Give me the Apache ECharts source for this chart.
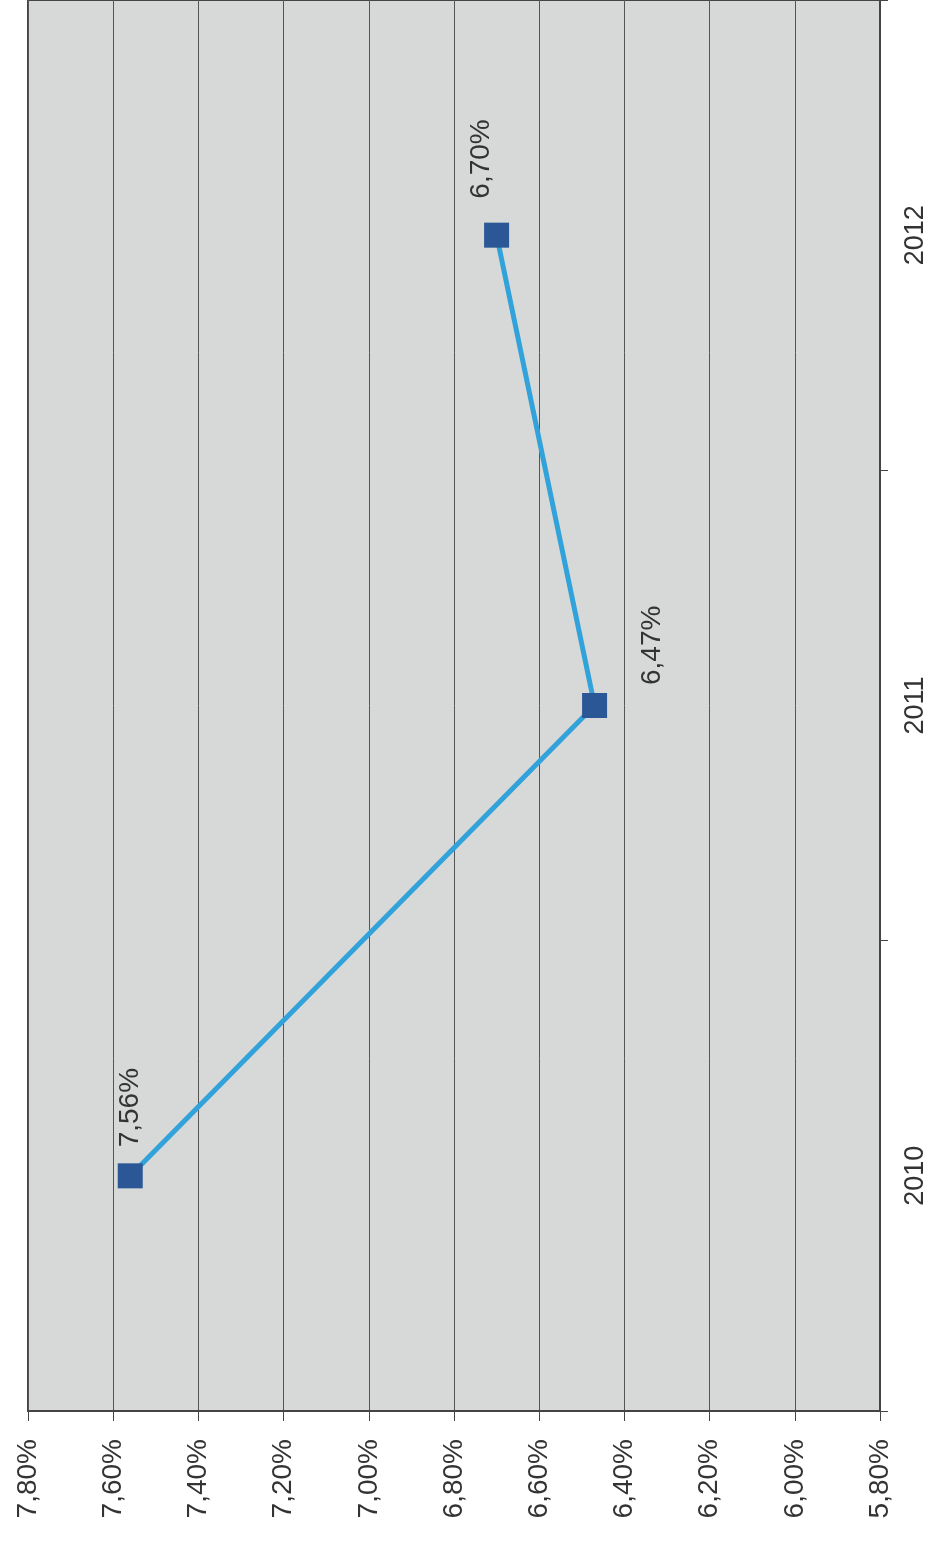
<!DOCTYPE html>
<html><head><meta charset="utf-8">
<script src="https://cdn.jsdelivr.net/npm/echarts@6/dist/echarts.min.js"></script>
<style>html,body{margin:0;padding:0;background:#fff}#c{width:934px;height:1541px}</style>
</head><body><div id="c"></div>
<script>
const categories = ['2010', '2011', '2012'];
const values = [7.56, 6.47, 6.70];
const axisMin = 5.8, axisMax = 7.8, axisStep = 0.2;

const fmt = v => v.toFixed(2).replace('.', ',') + '%';
// label offsets in the rotated text frame: [along text, across text]
const labelOffsets = [[0, 0], [-8, 58], [8, -15]];

const chart = echarts.init(document.getElementById('c'));
chart.setOption({
  backgroundColor: '#ffffff',
  animation: false,
  grid: { left: 28, right: 54, top: -9, bottom: 130, show: true, backgroundColor: '#d6d9d7', borderColor: '#444', borderWidth: 2 },
  xAxis: {
    type: 'value', inverse: true, position: 'bottom',
    min: axisMin, max: axisMax, interval: axisStep,
    axisLine: { show: true, lineStyle: { color: '#444', width: 2 } },
    axisTick: { show: true, length: 10, lineStyle: { color: '#444' } },
    splitLine: { show: true, lineStyle: { color: '#555', width: 1 } },
    axisLabel: { rotate: 90, margin: 28, fontFamily: 'Liberation Sans', fontSize: 28, color: '#333', formatter: v => fmt(v) }
  },
  yAxis: {
    type: 'category', position: 'right', data: categories, boundaryGap: true,
    axisLine: { show: true, lineStyle: { color: '#444', width: 2 } },
    axisTick: { show: true, length: 8, lineStyle: { color: '#444' } },
    splitLine: { show: false },
    axisLabel: { rotate: 90, margin: 22, fontFamily: 'Liberation Sans', fontSize: 27, color: '#333' }
  },
  series: [{
    type: 'line',
    data: values.map((v, i) => ({
      value: v,
      label: { offset: labelOffsets[i] }
    })),
    symbol: 'rect', symbolSize: 25,
    itemStyle: { color: '#2b5796' },
    lineStyle: { color: '#32a2db', width: 5 },
    z: 5,
    label: {
      show: true, position: 'top', distance: 16, rotate: 90,
      align: 'left', verticalAlign: 'middle',
      fontFamily: 'Liberation Sans', fontSize: 28, color: '#333',
      formatter: p => fmt(p.value)
    }
  }]
});
</script></body></html>
